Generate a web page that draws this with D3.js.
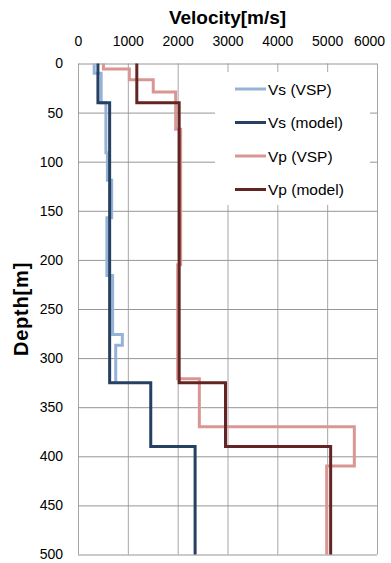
<!doctype html>
<html>
    <head>
        <title>Velocity profile</title>
        <script src="https://d3js.org/d3.v7.min.js"></script>
        <style>
            body { margin: 0; background: #fff; }
            text { font-family: "Liberation Sans", Arial, sans-serif; fill: #000; }
        </style>
    </head>

    <body>
        <div id="my_dataviz"></div>
        <script>
            // velocity profiles (depth boundaries in m, velocity in m/s per layer)
            var seriesNames = ["Vs (VSP)", "Vs (model)", "Vp (VSP)", "Vp (model)"];
            var seriesColors = ["#95b3d7", "#254061", "#d99694", "#632523"];

            var vsVspDepths = [0, 10, 40, 91, 119, 157, 216, 276, 287, 325];
            var vsVspValues = [325, 465, 560, 590, 676, 580, 695, 890, 757];

            var vsModelDepths = [0, 40, 325, 390, 500];
            var vsModelValues = [400, 635, 1460, 2350];

            var vpVspDepths = [0, 5.6, 16.5, 29, 67, 205, 321, 370, 410, 500];
            var vpVspValues = [510, 1030, 1510, 1960, 2060, 2000, 2435, 5545, 4990];

            var vpModelDepths = [0, 40, 325, 390, 500];
            var vpModelValues = [1180, 2030, 2960, 5070];

            var xTicks = [0, 1000, 2000, 3000, 4000, 5000, 6000];
            var yTicks = [0, 50, 100, 150, 200, 250, 300, 350, 400, 450, 500];

            // set the dimensions and margins of the graph
            var margin = {top: 63.5, right: 14, bottom: 8.5, left: 78},
                width = 391 - margin.left - margin.right,
                height = 563 - margin.top - margin.bottom;

            var svg = d3.select("#my_dataviz")
            .append("svg")
                .attr("width", 391)
                .attr("height", 563)
            .append("g")
                .attr("transform", "translate(" + margin.left + "," + margin.top + ")");

            var x = d3.scaleLinear().domain([0, 6000]).range([0, width]);
            var y = d3.scaleLinear().domain([0, 500]).range([0, height]);

            // grid lines (also make the plot border)
            var xGrid = svg.append("g")
                .call(d3.axisTop(x).tickValues(xTicks).tickSize(-height).tickFormat(""));
            xGrid.select(".domain").remove();
            xGrid.selectAll("line").attr("stroke", "#a6a6a6");

            var yGrid = svg.append("g")
                .call(d3.axisLeft(y).tickValues(yTicks).tickSize(-width).tickFormat(""));
            yGrid.select(".domain").remove();
            yGrid.selectAll("line").attr("stroke", "#969696");

            // tick labels
            var xAxis = svg.append("g")
                .call(d3.axisTop(x).tickValues(xTicks).tickSize(0).tickPadding(18).tickFormat(d3.format("d")));
            xAxis.select(".domain").remove();
            xAxis.selectAll("text").attr("font-size", "14px").attr("font-family", "Liberation Sans, Arial, sans-serif").attr("fill", "#000");
            // last label is pushed left so it stays inside the page, like the original
            xAxis.selectAll("text").filter(function(d) { return d === 6000; }).attr("x", -8);

            var yAxis = svg.append("g")
                .call(d3.axisLeft(y).tickValues(yTicks).tickSize(0).tickPadding(15).tickFormat(d3.format("d")));
            yAxis.select(".domain").remove();
            yAxis.selectAll("text").attr("font-size", "14px").attr("font-family", "Liberation Sans, Arial, sans-serif").attr("fill", "#000");

            // legend background hides the grid under it
            svg.append("rect")
                .attr("x", 215 - margin.left)
                .attr("y", 72 - margin.top)
                .attr("width", 155)
                .attr("height", 133)
                .attr("fill", "#fff");

            // turn layer lists into step lines
            function steps(depths, values) {
                var pts = [];
                values.forEach(function(v, i) {
                    pts.push([v, depths[i]]);
                    pts.push([v, depths[i + 1]]);
                });
                return pts;
            }

            var series = [
                steps(vsVspDepths, vsVspValues),
                steps(vsModelDepths, vsModelValues),
                steps(vpVspDepths, vpVspValues),
                steps(vpModelDepths, vpModelValues)
            ];

            var line = d3.line()
                .x(function(d) { return x(d[0]); })
                .y(function(d) { return y(d[1]); });

            series.forEach(function(pts, i) {
                svg.append("path")
                    .datum(pts)
                    .attr("fill", "none")
                    .attr("stroke", seriesColors[i])
                    .attr("stroke-width", 3)
                    .attr("stroke-linejoin", "miter")
                    .attr("d", line);
            });

            // legend
            var legend = svg.append("g")
                .attr("transform", "translate(" + (235 - margin.left) + "," + (89 - margin.top) + ")");
            seriesNames.forEach(function(name, i) {
                var row = legend.append("g").attr("transform", "translate(0," + (i * 33.5) + ")");
                row.append("line")
                    .attr("x1", 0).attr("x2", 31)
                    .attr("y1", 0).attr("y2", 0)
                    .attr("stroke", seriesColors[i])
                    .attr("stroke-width", 3);
                row.append("text")
                    .attr("x", 33)
                    .attr("y", 0)
                    .attr("dy", "0.36em")
                    .attr("font-size", "15.5px")
                    .text(name);
            });

            // title
            svg.append("text")
                .attr("text-anchor", "middle")
                .attr("x", width / 2)
                .attr("y", 24 - margin.top)
                .attr("font-size", "19px")
                .attr("font-weight", "bold")
                .text("Velocity[m/s]");

            // y label
            svg.append("text")
                .attr("text-anchor", "middle")
                .attr("transform", "translate(" + (28 - margin.left) + "," + (height / 2) + ") rotate(-90)")
                .attr("font-size", "20px")
                .attr("font-weight", "bold")
                .attr("letter-spacing", "0.8px")
                .text("Depth[m]");
        </script>
    </body>
</html>
